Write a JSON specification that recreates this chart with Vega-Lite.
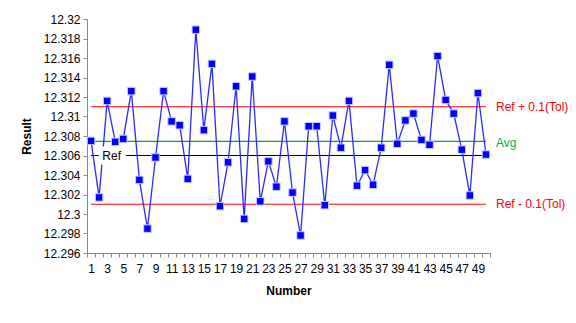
{
  "$schema": "https://vega.github.io/schema/vega-lite/v6.json",
  "width": 403,
  "height": 234,
  "autosize": {"type": "none"},
  "padding": {"left": 87, "top": 19, "right": 86, "bottom": 70},
  "background": "white",
  "config": {
    "view": {"stroke": null},
    "font": "Liberation Sans",
    "axis": {"domainColor": "#888888", "tickColor": "#888888", "labelColor": "#000000", "titleColor": "#000000", "grid": false, "labelFontSize": 12, "titleFontSize": 12, "titleFontWeight": "bold", "tickSize": 4, "domainWidth": 1, "tickWidth": 1}
  },
  "data": {
    "values": [
      {"Number": 1, "Result": 12.3075},
      {"Number": 2, "Result": 12.3017},
      {"Number": 3, "Result": 12.3116},
      {"Number": 4, "Result": 12.3074},
      {"Number": 5, "Result": 12.3077},
      {"Number": 6, "Result": 12.3126},
      {"Number": 7, "Result": 12.3035},
      {"Number": 8, "Result": 12.2985},
      {"Number": 9, "Result": 12.3058},
      {"Number": 10, "Result": 12.3126},
      {"Number": 11, "Result": 12.3095},
      {"Number": 12, "Result": 12.3091},
      {"Number": 13, "Result": 12.3036},
      {"Number": 14, "Result": 12.3189},
      {"Number": 15, "Result": 12.3086},
      {"Number": 16, "Result": 12.3154},
      {"Number": 17, "Result": 12.3008},
      {"Number": 18, "Result": 12.3053},
      {"Number": 19, "Result": 12.3131},
      {"Number": 20, "Result": 12.2995},
      {"Number": 21, "Result": 12.3141},
      {"Number": 22, "Result": 12.3013},
      {"Number": 23, "Result": 12.3054},
      {"Number": 24, "Result": 12.3028},
      {"Number": 25, "Result": 12.3095},
      {"Number": 26, "Result": 12.3022},
      {"Number": 27, "Result": 12.2978},
      {"Number": 28, "Result": 12.309},
      {"Number": 29, "Result": 12.309},
      {"Number": 30, "Result": 12.3009},
      {"Number": 31, "Result": 12.3101},
      {"Number": 32, "Result": 12.3068},
      {"Number": 33, "Result": 12.3116},
      {"Number": 34, "Result": 12.3029},
      {"Number": 35, "Result": 12.3045},
      {"Number": 36, "Result": 12.303},
      {"Number": 37, "Result": 12.3068},
      {"Number": 38, "Result": 12.3153},
      {"Number": 39, "Result": 12.3072},
      {"Number": 40, "Result": 12.3096},
      {"Number": 41, "Result": 12.3103},
      {"Number": 42, "Result": 12.3076},
      {"Number": 43, "Result": 12.3071},
      {"Number": 44, "Result": 12.3162},
      {"Number": 45, "Result": 12.3117},
      {"Number": 46, "Result": 12.3103},
      {"Number": 47, "Result": 12.3066},
      {"Number": 48, "Result": 12.3019},
      {"Number": 49, "Result": 12.3124},
      {"Number": 50, "Result": 12.3061}
    ]
  },
  "encoding": {
    "x": {
      "field": "Number",
      "type": "ordinal",
      "scale": {"type": "band", "paddingInner": 0, "paddingOuter": 0},
      "axis": {"title": "Number", "labelAngle": 0, "tickBand": "extent", "labelOverlap": false, "labelExpr": "datum.value % 2 == 1 ? datum.label : ''", "labelPadding": 6, "titlePadding": 11}
    }
  },
  "layer": [
    {
      "mark": {"type": "line", "color": "#ff0000", "strokeWidth": 1.2},
      "encoding": {"y": {"datum": 12.311, "type": "quantitative", "scale": {"domain": [12.296, 12.32], "nice": false, "zero": false}, "axis": {"title": "Result", "values": [12.296, 12.298, 12.3, 12.302, 12.304, 12.306, 12.308, 12.31, 12.312, 12.314, 12.316, 12.318, 12.32], "tickCount": 13, "labelOverlap": false, "labelFlush": false, "labelBound": false, "format": ".6~g", "labelPadding": 3, "titlePadding": 10}}}
    },
    {
      "mark": {"type": "line", "color": "#ff0000", "strokeWidth": 1.2},
      "encoding": {"y": {"datum": 12.301, "type": "quantitative"}}
    },
    {
      "mark": {"type": "line", "color": "#000000", "strokeWidth": 1.2},
      "encoding": {"y": {"datum": 12.306, "type": "quantitative"}}
    },
    {
      "transform": [{"joinaggregate": [{"op": "mean", "field": "Result", "as": "Avg"}]}],
      "mark": {"type": "line", "color": "#00a050", "strokeWidth": 1.2},
      "encoding": {"y": {"field": "Avg", "type": "quantitative"}}
    },
    {
      "mark": {"type": "line", "color": "#2a2aff", "strokeWidth": 1.3},
      "encoding": {"y": {"field": "Result", "type": "quantitative"}}
    },
    {
      "mark": {"type": "point", "shape": "square", "filled": true, "color": "#0000ff", "size": 56, "stroke": "#c8c8ff", "strokeWidth": 1, "opacity": 1},
      "encoding": {"y": {"field": "Result", "type": "quantitative"}}
    },
    {
      "transform": [{"filter": "datum.Number == 3"}],
      "mark": {"type": "text", "text": "Ref", "fontSize": 12, "align": "center", "baseline": "middle", "dx": 4.5, "stroke": "white", "strokeWidth": 9, "fill": "white"},
      "encoding": {"y": {"datum": 12.306, "type": "quantitative"}}
    },
    {
      "transform": [{"filter": "datum.Number == 3"}],
      "mark": {"type": "text", "text": "Ref", "fontSize": 12, "align": "center", "baseline": "middle", "dx": 4.5, "color": "#000000"},
      "encoding": {"y": {"datum": 12.306, "type": "quantitative"}}
    },
    {
      "transform": [{"filter": "datum.Number == 50"}],
      "mark": {"type": "text", "text": "Ref + 0.1(Tol)", "fontSize": 12, "align": "left", "baseline": "middle", "dx": 10, "color": "#ff0000"},
      "encoding": {"y": {"datum": 12.311, "type": "quantitative"}}
    },
    {
      "transform": [{"filter": "datum.Number == 50"}],
      "mark": {"type": "text", "text": "Ref - 0.1(Tol)", "fontSize": 12, "align": "left", "baseline": "middle", "dx": 10, "color": "#ff0000"},
      "encoding": {"y": {"datum": 12.301, "type": "quantitative"}}
    },
    {
      "transform": [{"aggregate": [{"op": "mean", "field": "Result", "as": "Avg"}, {"op": "max", "field": "Number", "as": "Number"}]}],
      "mark": {"type": "text", "text": "Avg", "fontSize": 12, "align": "left", "baseline": "middle", "dx": 10, "dy": 1.5, "color": "#00b050"},
      "encoding": {"y": {"field": "Avg", "type": "quantitative"}}
    }
  ]
}
